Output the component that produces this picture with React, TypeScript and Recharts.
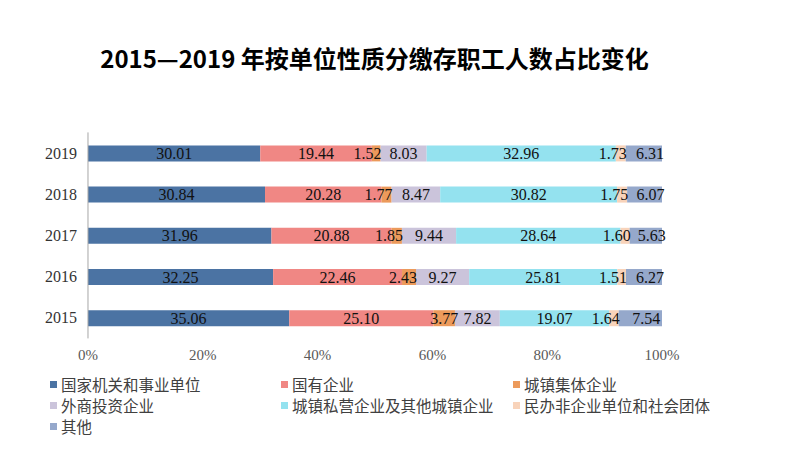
import React from 'react';
import { BarChart, Bar, XAxis, YAxis, LabelList } from 'recharts';

// years top to bottom as drawn
const years = ['2019', '2018', '2017', '2016', '2015'];

const seriesNames = [
  '国家机关和事业单位',
  '国有企业',
  '城镇集体企业',
  '外商投资企业',
  '城镇私营企业及其他城镇企业',
  '民办非企业单位和社会团体',
  '其他',
];

const seriesColors = ['#4b73a3', '#f08784', '#ec9a5b', '#cbc4db', '#94e2ef', '#f8d3ba', '#95a8cb'];

// values per year (same order as years), one array per series
const stateOrgans = [30.01, 30.84, 31.96, 32.25, 35.06];
const stateOwned = [19.44, 20.28, 20.88, 22.46, 25.1];
const collective = [1.52, 1.77, 1.85, 2.43, 3.77];
const foreign = [8.03, 8.47, 9.44, 9.27, 7.82];
const privateUrban = [32.96, 30.82, 28.64, 25.81, 19.07];
const nonProfit = [1.73, 1.75, 1.6, 1.51, 1.64];
const others = [6.31, 6.07, 5.63, 6.27, 7.54];

const seriesValues = [stateOrgans, stateOwned, collective, foreign, privateUrban, nonProfit, others];

const xTicks = [0, 20, 40, 60, 80, 100];
const frameTicks = [0, 1, 2, 3, 4, 5];

const data = years.map((year, i) => {
  const row: Record<string, string | number> = { year };
  seriesValues.forEach((vals, s) => {
    row['s' + s] = vals[i];
  });
  return row;
});

const serif = '"Liberation Serif", "Times New Roman", serif';
const cjk = '"Noto Sans CJK SC", sans-serif';

// narrow segments: label pushed against the segment's right end, like the office chart does
const makeLabel = (isLast: boolean) => (props: any) => {
  const { x, y, width, height, value } = props;
  const v = Number(value);
  const narrow = v < 2.5;
  const tx = narrow ? x + width + 1 : x + width / 2 + (isLast ? 6 : 0);
  return (
    <text
      x={tx}
      y={y + height / 2}
      textAnchor={narrow ? 'end' : 'middle'}
      dominantBaseline="central"
      fontFamily={serif}
      fontSize={16}
      fill="#111"
    >
      {v.toFixed(2)}
    </text>
  );
};

export default function App() {
  return (
    <div style={{ position: 'absolute', left: 0, top: 0, width: 793, height: 461, background: '#fff' }}>
      <div
        style={{
          position: 'absolute',
          top: 42,
          left: 2,
          width: 745,
          textAlign: 'center',
          fontFamily: cjk,
          fontWeight: 700,
          fontSize: 24,
          lineHeight: '32px',
          color: '#000',
        }}
      >
        2015—2019 年按单位性质分缴存职工人数占比变化
      </div>
      <BarChart
        width={793}
        height={461}
        data={data}
        layout="vertical"
        margin={{ top: 132.4, right: 131, bottom: 92.6, left: 0 }}
        barCategoryGap={0}
      >
        <YAxis
          type="category"
          dataKey="year"
          width={0.01}
          axisLine={false}
          tickLine={false}
          tickSize={0}
          tickMargin={11}
          tick={{ fontFamily: serif, fontSize: 16, fill: '#333' }}
        />
        <YAxis
          yAxisId="frame"
          type="number"
          domain={[0, 5]}
          ticks={frameTicks}
          allowDataOverflow
          width={87.99}
          tick={false}
          tickSize={6}
          axisLine={{ stroke: '#a6a6a6' }}
          tickLine={{ stroke: '#a6a6a6' }}
        />
        <XAxis
          type="number"
          domain={[0, 100]}
          ticks={xTicks}
          tickFormatter={(v: number) => v + '%'}
          axisLine={false}
          tickLine={false}
          tick={{ fontFamily: serif, fontSize: 15, fill: '#595959', dy: 3 }}
          height={30}
        />
        {seriesNames.map((name, s) => (
          <Bar
            key={name}
            dataKey={'s' + s}
            name={name}
            stackId="a"
            fill={seriesColors[s]}
            barSize={16}
            isAnimationActive={false}
          >
            <LabelList dataKey={'s' + s} content={makeLabel(s === seriesNames.length - 1)} />
          </Bar>
        ))}
      </BarChart>
      <div
        style={{
          position: 'absolute',
          top: 374,
          left: 50,
          width: 700,
          display: 'grid',
          gridTemplateColumns: '231px 232px 237px',
          rowGap: 0,
          fontFamily: cjk,
          fontSize: 15.5,
          lineHeight: '21px',
          color: '#404040',
        }}
      >
        {seriesNames.map((name, s) => (
          <div key={name} style={{ display: 'flex', alignItems: 'center' }}>
            <span
              style={{ display: 'inline-block', width: 7, height: 7, background: seriesColors[s], marginRight: 4 }}
            />
            {name}
          </div>
        ))}
      </div>
    </div>
  );
}
